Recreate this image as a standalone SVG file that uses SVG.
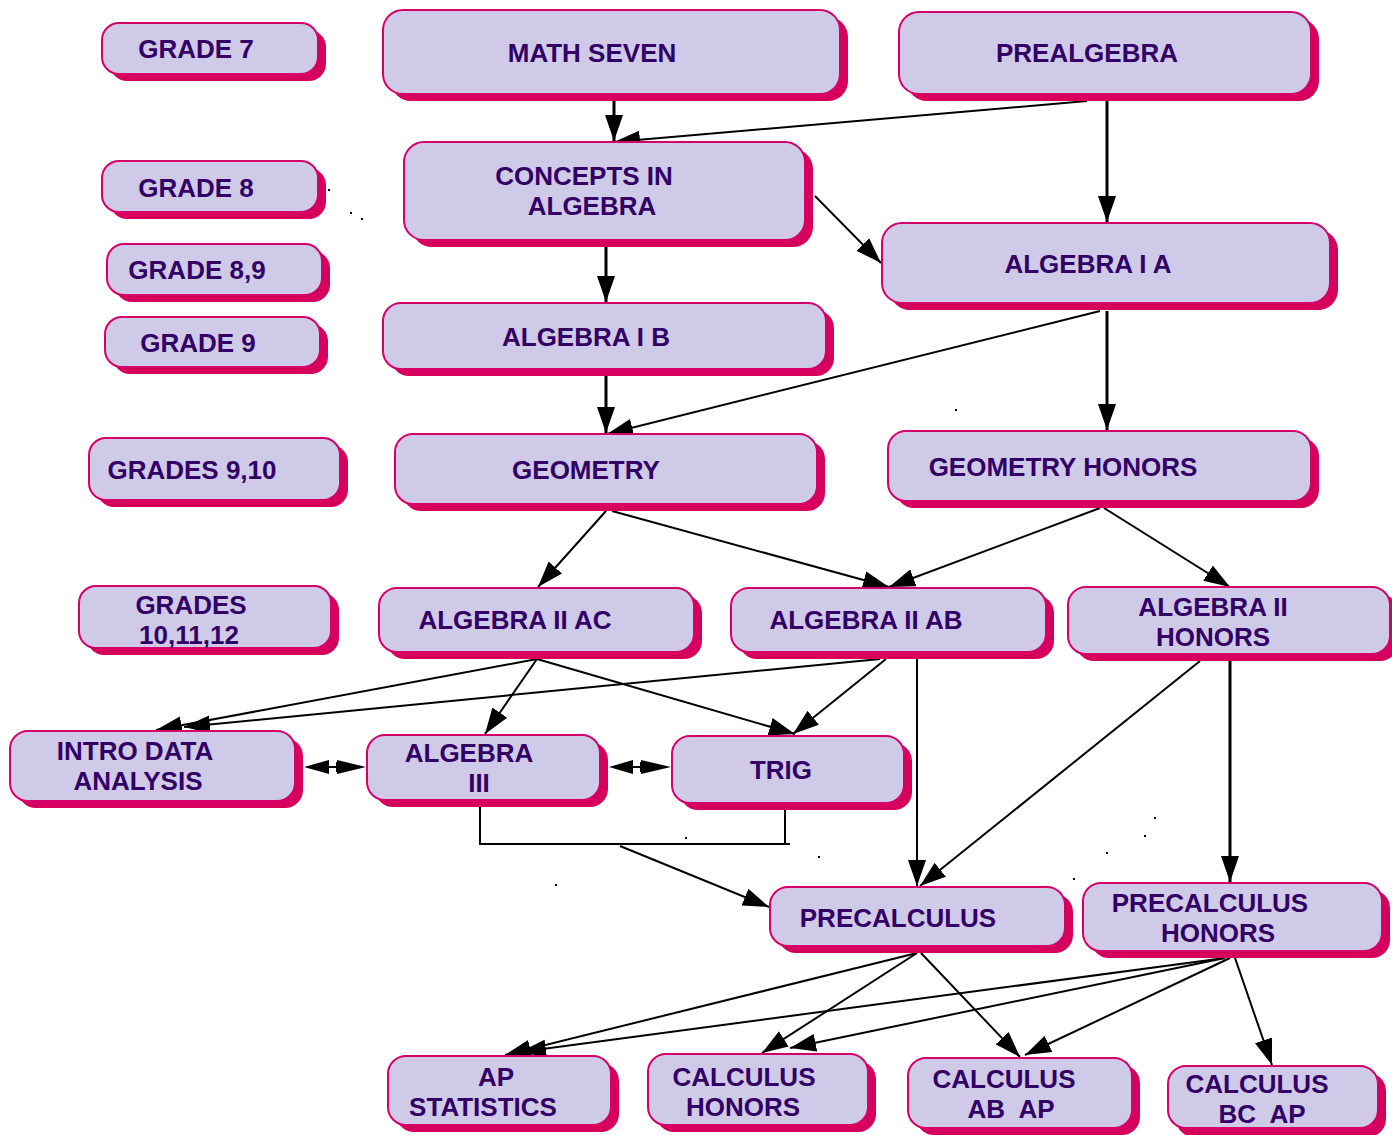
<svg xmlns="http://www.w3.org/2000/svg" width="1392" height="1135" viewBox="0 0 1392 1135">
<style>
.sh{fill:#D6005C}
.bx{fill:#CFCAE7;stroke:#D6006A;stroke-width:2}
.t{font-family:"Liberation Sans",Arial,sans-serif;font-weight:bold;font-size:26px;fill:#330066;text-anchor:middle}
.c{stroke:#000;stroke-width:2;fill:none}
.k{stroke:#000;stroke-width:3;fill:none}
.d{fill:#000}
</style>
<defs>
<marker id="ah" markerUnits="userSpaceOnUse" markerWidth="28" markerHeight="20" refX="26" refY="9" orient="auto" viewBox="0 0 28 18">
<path d="M0,0 L26,9 L0,18 Z" fill="#000"/>
</marker>
</defs>
<rect width="1392" height="1135" fill="#fff"/>

<g id="connectors">
<line class="k" x1="614" y1="101" x2="614" y2="141" marker-end="url(#ah)"/>
<line class="c" x1="1087" y1="101" x2="614" y2="142" marker-end="url(#ah)"/>
<line class="k" x1="1107" y1="101" x2="1107" y2="222" marker-end="url(#ah)"/>
<line class="c" x1="815" y1="196" x2="881" y2="263" marker-end="url(#ah)"/>
<line class="k" x1="606" y1="247" x2="606" y2="302" marker-end="url(#ah)"/>
<line class="c" x1="1100" y1="311" x2="607" y2="434" marker-end="url(#ah)"/>
<line class="k" x1="1107" y1="311" x2="1107" y2="430" marker-end="url(#ah)"/>
<line class="k" x1="606" y1="376" x2="606" y2="433" marker-end="url(#ah)"/>
<line class="c" x1="606" y1="511" x2="538" y2="587" marker-end="url(#ah)"/>
<line class="c" x1="612" y1="511" x2="889" y2="587" marker-end="url(#ah)"/>
<line class="c" x1="1100" y1="508" x2="889" y2="587" marker-end="url(#ah)"/>
<line class="c" x1="1104" y1="508" x2="1230" y2="587" marker-end="url(#ah)"/>
<line class="c" x1="537" y1="659" x2="156" y2="730" marker-end="url(#ah)"/>
<line class="c" x1="880" y1="659" x2="184" y2="727" marker-end="url(#ah)"/>
<line class="c" x1="537" y1="659" x2="485" y2="734" marker-end="url(#ah)"/>
<line class="c" x1="537" y1="659" x2="795" y2="734" marker-end="url(#ah)"/>
<line class="c" x1="886" y1="659" x2="793" y2="734" marker-end="url(#ah)"/>
<line class="c" x1="917" y1="653" x2="917" y2="886" marker-end="url(#ah)"/>
<line class="c" x1="1200" y1="661" x2="920" y2="886" marker-end="url(#ah)"/>
<line class="k" x1="1230" y1="661" x2="1230" y2="882" marker-end="url(#ah)"/>
<polygon class="d" points="304,767 329,760 329,774"/>
<line class="c" x1="328" y1="767" x2="338" y2="767"/>
<rect class="d" x="336" y="762" width="2" height="10"/>
<polygon class="d" points="366,767 337,760 337,774"/>
<polygon class="d" points="609,767 633,760 633,774"/>
<line class="c" x1="632" y1="767" x2="642" y2="767"/>
<rect class="d" x="640" y="762" width="2" height="10"/>
<polygon class="d" points="671,767 641,760 641,774"/>
<polyline class="c" points="480,806 480,844 790,844"/>
<line class="c" x1="785" y1="808" x2="785" y2="844"/>
<line class="c" x1="620" y1="846" x2="769" y2="907" marker-end="url(#ah)"/>
<line class="c" x1="917" y1="953" x2="505" y2="1055" marker-end="url(#ah)"/>
<line class="c" x1="917" y1="953" x2="762" y2="1053" marker-end="url(#ah)"/>
<line class="c" x1="921" y1="953" x2="1020" y2="1057" marker-end="url(#ah)"/>
<line class="c" x1="1225" y1="958" x2="520" y2="1052" marker-end="url(#ah)"/>
<line class="c" x1="1225" y1="958" x2="790" y2="1048" marker-end="url(#ah)"/>
<line class="c" x1="1230" y1="958" x2="1025" y2="1055" marker-end="url(#ah)"/>
<line class="c" x1="1235" y1="958" x2="1272" y2="1065" marker-end="url(#ah)"/>
<g class="d">
<rect x="328" y="189" width="2" height="2"/><rect x="350" y="212" width="2" height="2"/><rect x="361" y="218" width="2" height="2"/><rect x="406" y="191" width="4" height="2"/>
<rect x="955" y="409" width="2" height="2"/><rect x="685" y="837" width="2" height="2"/><rect x="818" y="856" width="2" height="2"/><rect x="555" y="884" width="2" height="2"/>
<rect x="1154" y="817" width="2" height="2"/><rect x="1144" y="835" width="2" height="2"/><rect x="1106" y="852" width="2" height="2"/><rect x="1073" y="878" width="2" height="2"/>
</g>
</g>

<g id="grade7"><rect class="sh" x="110" y="30" width="216" height="51" rx="17"/><rect class="bx" x="102" y="23" width="216" height="51" rx="17"/><text class="t" x="196" y="58">GRADE 7</text></g>
<g id="grade8"><rect class="sh" x="110" y="168" width="216" height="51" rx="17"/><rect class="bx" x="102" y="161" width="216" height="51" rx="17"/><text class="t" x="196" y="197">GRADE 8</text></g>
<g id="grade89"><rect class="sh" x="115" y="251" width="215" height="51" rx="17"/><rect class="bx" x="107" y="244" width="215" height="51" rx="17"/><text class="t" x="197" y="279">GRADE 8,9</text></g>
<g id="grade9"><rect class="sh" x="113" y="324" width="215" height="50" rx="17"/><rect class="bx" x="105" y="317" width="215" height="50" rx="17"/><text class="t" x="198" y="352">GRADE 9</text></g>
<g id="grades910"><rect class="sh" x="97" y="445" width="251" height="62" rx="17"/><rect class="bx" x="89" y="438" width="251" height="62" rx="17"/><text class="t" x="192" y="479">GRADES 9,10</text></g>
<g id="grades101112"><rect class="sh" x="87" y="593" width="252" height="62" rx="17"/><rect class="bx" x="79" y="586" width="252" height="62" rx="17"/><text class="t" x="191" y="614">GRADES</text><text class="t" x="189" y="644">10,11,12</text></g>

<g id="mathseven"><rect class="sh" x="391" y="17" width="457" height="84" rx="20"/><rect class="bx" x="383" y="10" width="457" height="84" rx="20"/><text class="t" x="592" y="62">MATH SEVEN</text></g>
<g id="prealgebra"><rect class="sh" x="907" y="19" width="412" height="82" rx="20"/><rect class="bx" x="899" y="12" width="412" height="82" rx="20"/><text class="t" x="1087" y="62">PREALGEBRA</text></g>
<g id="concepts"><rect class="sh" x="412" y="149" width="401" height="98" rx="20"/><rect class="bx" x="404" y="142" width="401" height="98" rx="20"/><text class="t" x="584" y="185">CONCEPTS IN</text><text class="t" x="592" y="215">ALGEBRA</text></g>
<g id="algebra1a"><rect class="sh" x="890" y="230" width="448" height="80" rx="20"/><rect class="bx" x="882" y="223" width="448" height="80" rx="20"/><text class="t" x="1088" y="273">ALGEBRA I A</text></g>
<g id="algebra1b"><rect class="sh" x="391" y="310" width="443" height="66" rx="18"/><rect class="bx" x="383" y="303" width="443" height="66" rx="18"/><text class="t" x="586" y="346">ALGEBRA I B</text></g>
<g id="geometry"><rect class="sh" x="403" y="441" width="422" height="70" rx="18"/><rect class="bx" x="395" y="434" width="422" height="70" rx="18"/><text class="t" x="586" y="479">GEOMETRY</text></g>
<g id="geometryhonors"><rect class="sh" x="896" y="438" width="423" height="70" rx="18"/><rect class="bx" x="888" y="431" width="423" height="70" rx="18"/><text class="t" x="1063" y="476">GEOMETRY HONORS</text></g>
<g id="algebra2ac"><rect class="sh" x="387" y="595" width="315" height="64" rx="18"/><rect class="bx" x="379" y="588" width="315" height="64" rx="18"/><text class="t" x="515" y="629">ALGEBRA II AC</text></g>
<g id="algebra2ab"><rect class="sh" x="739" y="595" width="315" height="64" rx="18"/><rect class="bx" x="731" y="588" width="315" height="64" rx="18"/><text class="t" x="866" y="629">ALGEBRA II AB</text></g>
<g id="algebra2honors"><rect class="sh" x="1076" y="594" width="322" height="67" rx="18"/><rect class="bx" x="1068" y="587" width="322" height="67" rx="18"/><text class="t" x="1213" y="616">ALGEBRA II</text><text class="t" x="1213" y="646">HONORS</text></g>
<g id="introdata"><rect class="sh" x="18" y="738" width="285" height="70" rx="18"/><rect class="bx" x="10" y="731" width="285" height="70" rx="18"/><text class="t" x="135" y="760">INTRO DATA</text><text class="t" x="138" y="790">ANALYSIS</text></g>
<g id="algebra3"><rect class="sh" x="375" y="742" width="233" height="65" rx="18"/><rect class="bx" x="367" y="735" width="233" height="65" rx="18"/><text class="t" x="469" y="762">ALGEBRA</text><text class="t" x="479" y="792">III</text></g>
<g id="trig"><rect class="sh" x="680" y="743" width="232" height="67" rx="18"/><rect class="bx" x="672" y="736" width="232" height="67" rx="18"/><text class="t" x="781" y="779">TRIG</text></g>
<g id="precalculus"><rect class="sh" x="778" y="894" width="295" height="59" rx="18"/><rect class="bx" x="770" y="887" width="295" height="59" rx="18"/><text class="t" x="898" y="927">PRECALCULUS</text></g>
<g id="precalchonors"><rect class="sh" x="1091" y="890" width="299" height="68" rx="18"/><rect class="bx" x="1083" y="883" width="299" height="68" rx="18"/><text class="t" x="1210" y="912">PRECALCULUS</text><text class="t" x="1218" y="942">HONORS</text></g>
<g id="apstats"><rect class="sh" x="396" y="1063" width="223" height="69" rx="18"/><rect class="bx" x="388" y="1056" width="223" height="69" rx="18"/><text class="t" x="496" y="1086">AP</text><text class="t" x="483" y="1116">STATISTICS</text></g>
<g id="calchonors"><rect class="sh" x="656" y="1061" width="220" height="71" rx="18"/><rect class="bx" x="648" y="1054" width="220" height="71" rx="18"/><text class="t" x="744" y="1086">CALCULUS</text><text class="t" x="743" y="1116">HONORS</text></g>
<g id="calcab"><rect class="sh" x="916" y="1065" width="224" height="70" rx="18"/><rect class="bx" x="908" y="1058" width="224" height="70" rx="18"/><text class="t" x="1004" y="1088">CALCULUS</text><text class="t" x="1011" y="1118" xml:space="preserve">AB  AP</text></g>
<g id="calcbc"><rect class="sh" x="1176" y="1073" width="210" height="64" rx="18"/><rect class="bx" x="1168" y="1066" width="210" height="62" rx="18"/><text class="t" x="1257" y="1093">CALCULUS</text><text class="t" x="1262" y="1123" xml:space="preserve">BC  AP</text></g>
</svg>
